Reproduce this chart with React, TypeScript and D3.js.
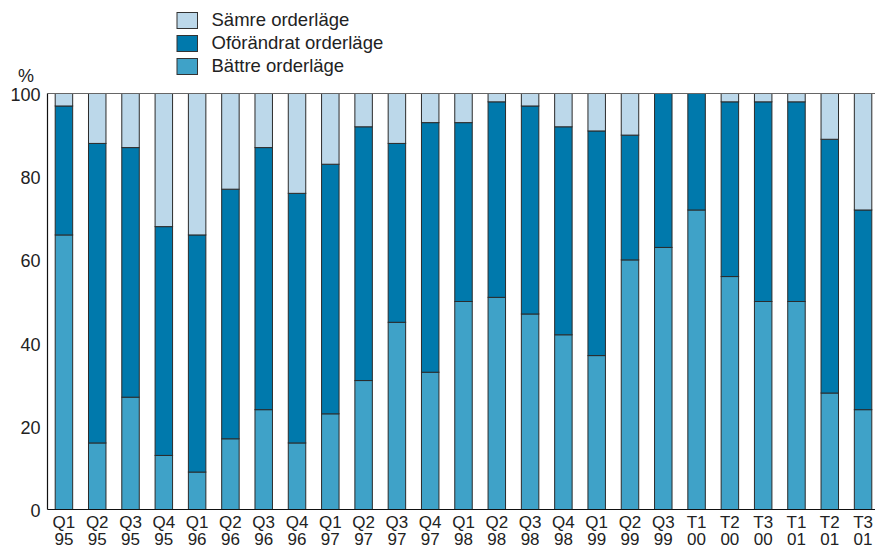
import React from "react";
import * as d3 from "d3";

const categories = [
  "Q1 95", "Q2 95", "Q3 95", "Q4 95",
  "Q1 96", "Q2 96", "Q3 96", "Q4 96",
  "Q1 97", "Q2 97", "Q3 97", "Q4 97",
  "Q1 98", "Q2 98", "Q3 98", "Q4 98",
  "Q1 99", "Q2 99", "Q3 99",
  "T1 00", "T2 00", "T3 00",
  "T1 01", "T2 01", "T3 01",
];

const battre = [66, 16, 27, 13, 9, 17, 24, 16, 23, 31, 45, 33, 50, 51, 47, 42, 37, 60, 63, 72, 56, 50, 50, 28, 24];
const oforandrat = [31, 72, 60, 55, 57, 60, 63, 60, 60, 61, 43, 60, 43, 47, 50, 50, 54, 30, 37, 28, 42, 48, 48, 61, 48];
const samre = [3, 12, 13, 32, 34, 23, 13, 24, 17, 8, 12, 7, 7, 2, 3, 8, 9, 10, 0, 0, 2, 2, 2, 11, 28];

const seriesNames = ["Bättre orderläge", "Oförändrat orderläge", "Sämre orderläge"];
const seriesColors = ["#3fa2c8", "#0079ac", "#bcd8ea"];
const yTicks = [0, 20, 40, 60, 80, 100];

const W = 875;
const H = 547;
const left = 47.5;
const top = 93.5;
const bottom = 509.5;

export default function App() {
  const x = d3
    .scaleBand<string>()
    .domain(categories)
    .range([left, 879.5])
    .paddingInner(0.475)
    .paddingOuter(0.231);
  const y = d3.scaleLinear().domain([0, 100]).range([bottom, top]);

  const table = categories.map((c, i) => ({
    cat: c,
    b: battre[i],
    o: oforandrat[i],
    s: samre[i],
  }));
  const stack = d3.stack<any>().keys(["b", "o", "s"])(table);

  const font = "'Liberation Sans', Arial, Helvetica, sans-serif";
  const legendOrder = [2, 1, 0];

  return (
    <svg width={W} height={H} style={{ position: "absolute", left: 0, top: 0 }} fontFamily={font}>
      <rect x={0} y={0} width={W} height={H} fill="#fff" />
      {/* legend */}
      {legendOrder.map((si, k) => (
        <g key={si} transform={`translate(177, ${12.5 + k * 23})`}>
          <rect x={0} y={0} width={20.5} height={16} fill={seriesColors[si]} stroke="#333" strokeWidth={1} />
          <text x={34.5} y={13.8} fontSize={18.5} fill="#222">
            {seriesNames[si]}
          </text>
        </g>
      ))}
      {/* bars */}
      {stack.map((layer, si) => (
        <g key={si}>
          {layer.map((d, i) => {
            const h = y(d[0]) - y(d[1]);
            if (h <= 0) return null;
            return (
              <rect
                key={i}
                x={x(categories[i])}
                y={y(d[1])}
                width={x.bandwidth()}
                height={h}
                fill={seriesColors[si]}
                stroke="#2b2b2b"
                strokeWidth={1}
              />
            );
          })}
        </g>
      ))}
      {/* frame */}
      <line x1={left} x2={W} y1={top} y2={top} stroke="#666" strokeWidth={1} />
      <line x1={left} x2={left} y1={top} y2={bottom} stroke="#111" strokeWidth={1.2} />
      <line x1={left} x2={W} y1={bottom} y2={bottom} stroke="#111" strokeWidth={1.2} />
      {/* y ticks */}
      {yTicks.map((t) => (
        <text key={t} x={40.5} y={y(t) + 1.5} textAnchor="end" dominantBaseline="central" fontSize={18} fill="#222">
          {t}
        </text>
      ))}
      <text x={26} y={76} textAnchor="middle" dominantBaseline="central" fontSize={18} fill="#222">
        %
      </text>
      {/* x labels */}
      {categories.map((c) => {
        const [q, yr] = c.split(" ");
        const cx = (x(c) as number) + x.bandwidth() / 2;
        return (
          <text key={c} textAnchor="middle" fontSize={17} fill="#222">
            <tspan x={cx} y={527.5}>{q}</tspan>
            <tspan x={cx} y={544.5}>{yr}</tspan>
          </text>
        );
      })}
    </svg>
  );
}
